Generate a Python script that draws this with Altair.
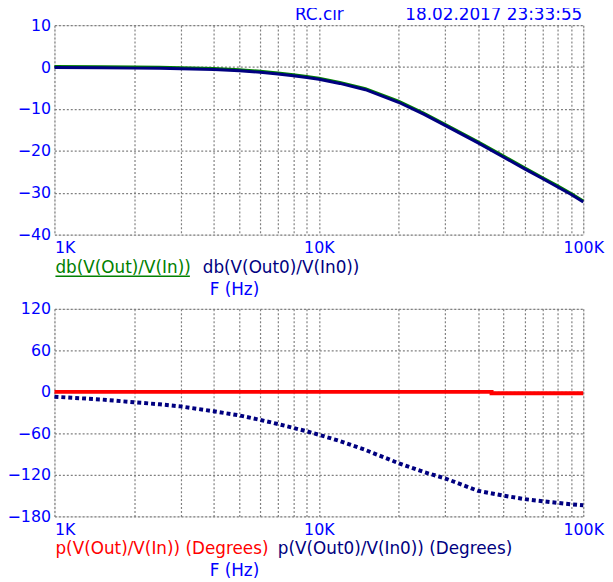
import altair as alt
import pandas as pd

# ---- data ----
freq_hz = [1000, 1500, 2000, 2500, 3000, 4000, 5000, 6000, 7000, 8000, 9000, 10000,
           12000, 15000, 20000, 25000, 30000, 40000, 50000, 60000, 70000, 80000, 90000, 100000]
db_out = [0.15, 0.1, 0.0, -0.05, -0.15, -0.35, -0.65, -1.0, -1.4, -1.8, -2.25, -2.65,
          -3.65, -5.15, -8.15, -11.05, -13.65, -17.85, -21.25, -24.05, -26.35, -28.35, -30.15, -31.95]
db_out0 = [-0.1, -0.15, -0.25, -0.3, -0.4, -0.6, -0.9, -1.25, -1.65, -2.05, -2.5, -2.9,
           -3.9, -5.4, -8.4, -11.3, -13.9, -18.1, -21.5, -24.3, -26.6, -28.6, -30.4, -32.2]
ph_out0 = [-7, -11, -15, -18, -21, -28, -34, -40.5, -46.5, -52, -57, -62,
           -71, -84, -103, -116, -125, -143, -150, -155, -158, -160.5, -162.5, -164]
ph_out_freq = [1000, 45000, 100000]
ph_out = [0, -2, -2]

grid_x = [1000, 2000, 3000, 4000, 5000, 6000, 7000, 8000, 9000, 10000,
          20000, 30000, 40000, 50000, 60000, 70000, 80000, 90000, 100000]
db_ticks = [-40, -30, -20, -10, 0, 10]
ph_ticks = [-180, -120, -60, 0, 60, 120]

BLUE = "#0000ff"
NAVY = "#000080"
GREEN = "#008000"
RED = "#ff0000"
GRAY = "#808080"
FONT = "DejaVu Sans"
FS_AX = 16
FS = 17

W, H1, H2 = 535, 212, 210

mag = pd.DataFrame({"f": freq_hz, "out": db_out, "out0": db_out0})
ph = pd.DataFrame({"f": freq_hz, "out0": ph_out0})
phr = pd.DataFrame({"f": ph_out_freq, "out": ph_out})

xscale = alt.Scale(type="log", domain=[1000, 100000], nice=False)
xaxis = alt.Axis(values=grid_x, grid=True, gridDash=[2, 2], gridColor=GRAY, gridWidth=1.2,
                 ticks=False, domain=False, labelColor=BLUE, labelFont=FONT, labelFontSize=FS_AX,
                 labelPadding=5, labelOverlap=False, labelBound=False, labelFlush=False,
                 labelAlign={"condition": {"test": "datum.value == 1000", "value": "left"}, "value": "center"},
                 labelExpr="datum.value == 1000 ? '1K' : datum.value == 10000 ? '10K' : datum.value == 100000 ? '100K' : ''")


def yaxis(vals):
    return alt.Axis(values=vals, grid=True, gridDash=[2, 2], gridColor=GRAY, gridWidth=1.2,
                    ticks=False, domain=False, labelColor=BLUE, labelFont=FONT, labelFontSize=FS_AX,
                    labelPadding=4, labelOverlap=False, labelBound=False, labelFlush=False)


def txt(s, x, y, color, align="left", baseline="middle"):
    return alt.Chart(pd.DataFrame({"t": [s]})).mark_text(
        align=align, baseline=baseline, font=FONT, fontSize=FS, color=color
    ).encode(x=alt.value(x), y=alt.value(y), text="t:N")


X = alt.X("f:Q", scale=xscale, axis=xaxis, title=None)
Ydb = lambda field: alt.Y(f"{field}:Q", scale=alt.Scale(domain=[-40, 10], nice=False), axis=yaxis(db_ticks), title=None)
Yph = lambda field: alt.Y(f"{field}:Q", scale=alt.Scale(domain=[-180, 120], nice=False), axis=yaxis(ph_ticks), title=None)

green = alt.Chart(mag).mark_line(color=GREEN, strokeWidth=3).encode(x=X, y=Ydb("out"))
navy = alt.Chart(mag).mark_line(color=NAVY, strokeWidth=3).encode(x=X, y=Ydb("out0"))
underline = alt.Chart(pd.DataFrame({"t": [0]})).mark_rule(color=GREEN, strokeWidth=1.5).encode(
    x=alt.value(1), x2=alt.value(137), y=alt.value(254))

top = alt.layer(
    green, navy,
    txt("RC.cir", 268, -5, BLUE, align="center", baseline="alphabetic"),
    txt("18.02.2017  23:33:55", 534, -5, BLUE, align="right", baseline="alphabetic"),
    txt("db(V(Out)/V(In))", 1, 246, GREEN),
    underline,
    txt("db(V(Out0)/V(In0))", 150, 246, NAVY),
    txt("F (Hz)", 157, 268, BLUE),
).properties(width=W, height=H1)

red = alt.Chart(phr).mark_line(color=RED, strokeWidth=4, interpolate="step-after").encode(x=X, y=Yph("out"))
navy_ph = alt.Chart(ph).mark_line(color=NAVY, strokeWidth=4, strokeDash=[4, 3]).encode(x=X, y=Yph("out0"))

bottom = alt.layer(
    red, navy_ph,
    txt("p(V(Out)/V(In)) (Degrees)", 1, 243, RED),
    txt("p(V(Out0)/V(In0)) (Degrees)", 226, 243, NAVY),
    txt("F (Hz)", 157, 265, BLUE),
).properties(width=W, height=H2)

chart = alt.vconcat(top, bottom, spacing=75, bounds="flush").properties(
    padding={"left": -2, "top": -6, "right": 0, "bottom": 0}
).configure_view(stroke=GRAY, strokeWidth=2).configure(background="white")

chart.save("out.html", embed_options={"renderer": "svg", "actions": False})
